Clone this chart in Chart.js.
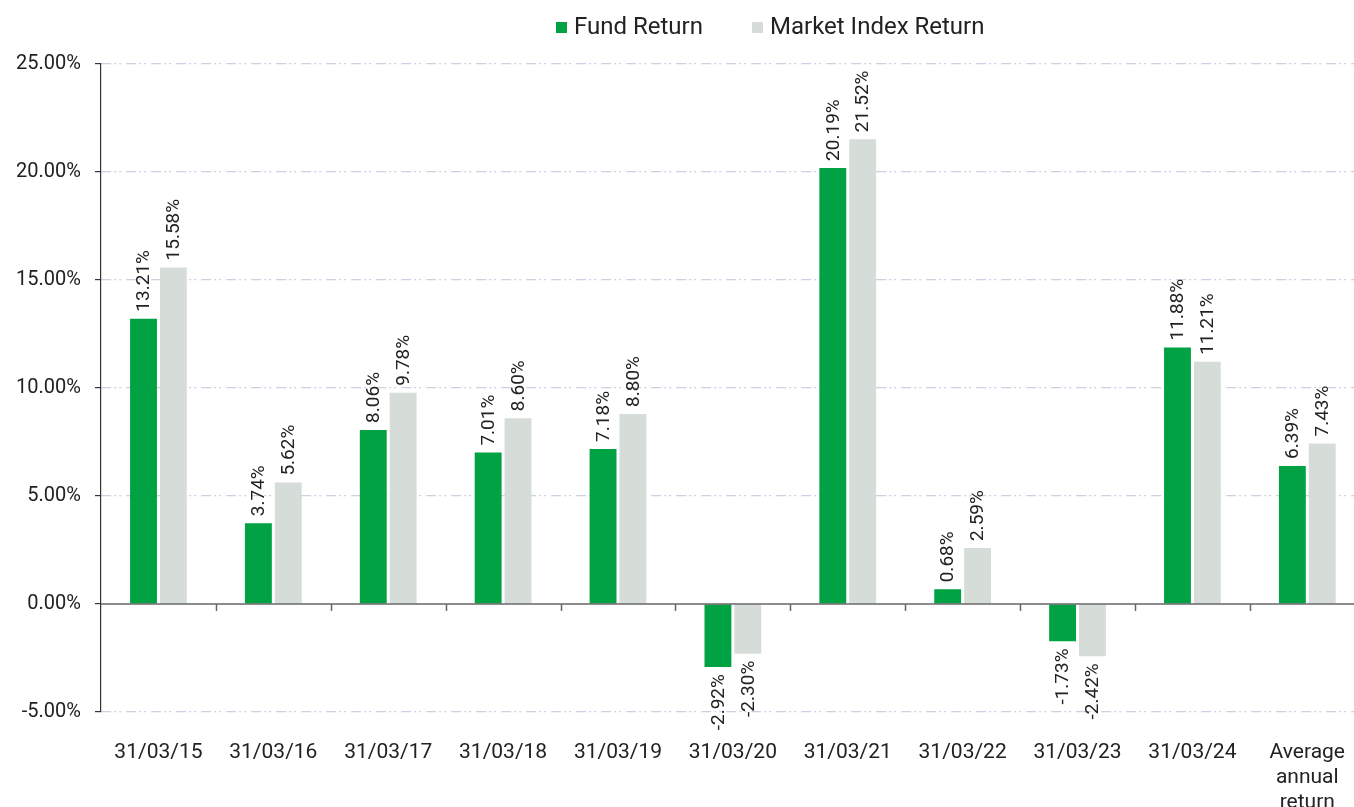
<!DOCTYPE html>
<html>
<head>
<meta charset="utf-8">
<script src="https://cdn.jsdelivr.net/npm/chart.js@4/dist/chart.umd.min.js"></script>
<style>
  html, body { margin: 0; padding: 0; background: #fff; overflow: hidden; width: 1354px; height: 807px; }
  #wrap { position: absolute; left: 0; top: 0; width: 1373px; height: 840px; }
</style>
</head>
<body>
<div id="wrap"><canvas id="c"></canvas></div>
<script>
const categories = ["31/03/15","31/03/16","31/03/17","31/03/18","31/03/19","31/03/20","31/03/21","31/03/22","31/03/23","31/03/24",["Average","annual","return"]];
const fundReturn = [13.21, 3.74, 8.06, 7.01, 7.18, -2.92, 20.19, 0.68, -1.73, 11.88, 6.39];
const indexReturn = [15.58, 5.62, 9.78, 8.60, 8.80, -2.30, 21.52, 2.59, -2.42, 11.21, 7.43];
const seriesNames = ["Fund Return", "Market Index Return"];
const yTicks = [-5, 0, 5, 10, 15, 20, 25];

const GREEN = '#00A244';
const GREY = '#D6DDD8';
const FONT = 'Roboto, "Noto Sans", sans-serif';

const labelPlugin = {
  id: 'valueLabels',
  afterDatasetsDraw(chart) {
    const ctx = chart.ctx;
    ctx.save();
    ctx.font = '19px ' + FONT;
    ctx.fillStyle = '#222';
    ctx.textBaseline = 'middle';
    chart.data.datasets.forEach((ds, di) => {
      const meta = chart.getDatasetMeta(di);
      meta.data.forEach((bar, i) => {
        const v = ds.data[i];
        const txt = v.toFixed(2) + '%';
        ctx.save();
        ctx.translate(bar.x, bar.y);
        ctx.rotate(-Math.PI / 2);
        if (v >= 0) { ctx.textAlign = 'left'; ctx.fillText(txt, 7, 1); }
        else { ctx.textAlign = 'right'; ctx.fillText(txt, -7, 1); }
        ctx.restore();
      });
    });
    ctx.restore();
  }
};

const zeroLinePlugin = {
  id: 'zeroLine',
  afterDatasetsDraw(chart) {
    const ctx = chart.ctx;
    const y = chart.scales.y.getPixelForValue(0);
    const area = chart.chartArea;
    ctx.save();
    ctx.strokeStyle = '#666';
    ctx.lineWidth = 1.5;
    ctx.beginPath();
    ctx.moveTo(area.left, y);
    ctx.lineTo(area.right, y);
    ctx.stroke();
    const n = categories.length;
    const step = (area.right - area.left) / n;
    for (let k = 1; k <= n; k++) {
      const x = Math.round(area.left + step * k) + 0.5;
      ctx.beginPath();
      ctx.moveTo(x, y);
      ctx.lineTo(x, y + 7);
      ctx.stroke();
    }
    ctx.restore();
  }
};

const legendPlugin = {
  id: 'customLegend',
  afterDraw(chart) {
    const ctx = chart.ctx;
    ctx.save();
    ctx.font = '24px ' + FONT;
    ctx.textBaseline = 'middle';
    ctx.textAlign = 'left';
    const cy = 28;
    const colors = [GREEN, GREY];
    const xs = [556, 752];
    seriesNames.forEach((name, i) => {
      ctx.fillStyle = colors[i];
      ctx.fillRect(xs[i], cy - 6, 11, 11);
      ctx.fillStyle = '#222';
      ctx.fillText(name, xs[i] + 18, cy);
    });
    ctx.restore();
  }
};

new Chart(document.getElementById('c'), {
  type: 'bar',
  data: {
    labels: categories,
    datasets: [
      { label: seriesNames[0], data: fundReturn, backgroundColor: GREEN, barPercentage: 0.9, categoryPercentage: 0.52 },
      { label: seriesNames[1], data: indexReturn, backgroundColor: GREY, barPercentage: 0.9, categoryPercentage: 0.52 }
    ]
  },
  options: {
    responsive: true,
    maintainAspectRatio: false,
    animation: false,
    devicePixelRatio: 1,
    layout: { padding: { top: 64, left: 0, right: 0, bottom: 0 } },
    plugins: { legend: { display: false }, tooltip: { enabled: false } },
    scales: {
      x: {
        grid: { display: false, drawTicks: false },
        border: { display: false },
        ticks: { font: { family: FONT, size: 21, lineHeight: 1.2 }, color: '#222', padding: 28, maxRotation: 0, autoSkip: false },
        afterFit(scale) { scale.height = 128; }
      },
      y: {
        min: -5, max: 25,
        afterBuildTicks(scale) { scale.ticks = yTicks.map(v => ({ value: v })); },
        grid: {
          color: ctx => (ctx.tick && ctx.tick.value === 0) ? 'rgba(0,0,0,0)' : '#CDD0E0',
          lineWidth: 1.2,
          tickColor: '#333',
          tickLength: 6,
          tickBorderDash: [],
          drawTicks: true
        },
        border: { display: true, color: '#333', width: 1.2, dash: [10, 3, 2, 3, 2, 5] },
        ticks: {
          font: { family: FONT, size: 20 }, color: '#222', padding: 14,
          callback: v => v.toFixed(2) + '%'
        },
        afterFit(scale) { scale.width = 101; }
      }
    }
  },
  plugins: [labelPlugin, zeroLinePlugin, legendPlugin]
});
</script>
</body>
</html>
